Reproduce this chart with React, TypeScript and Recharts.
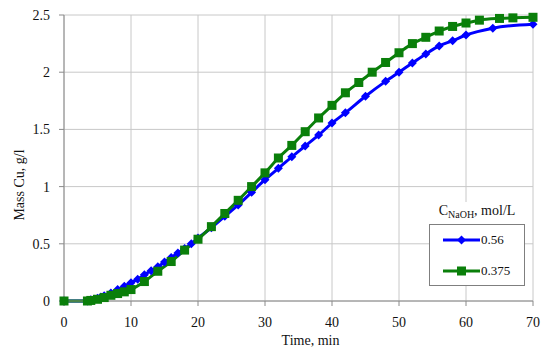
import { LineChart, Line, XAxis, YAxis, CartesianGrid } from 'recharts';

// 0.56 mol/L NaOH (blue, diamonds)
const blueTime = [0, 3.5, 4, 4.5, 5, 5.5, 6, 7, 8, 9, 10, 11, 12, 13, 14, 15, 16, 17, 18, 19, 20, 22, 24, 26, 28, 30, 32, 34, 36, 38, 40, 42, 45, 48, 50, 52, 54, 56, 58, 60, 64, 70];
const blueMass = [0, 0, 0.01, 0.015, 0.025, 0.035, 0.045, 0.07, 0.1, 0.13, 0.16, 0.19, 0.23, 0.265, 0.3, 0.34, 0.38, 0.42, 0.46, 0.5, 0.55, 0.64, 0.74, 0.84, 0.95, 1.06, 1.16, 1.26, 1.355, 1.45, 1.555, 1.645, 1.79, 1.92, 2.0, 2.08, 2.16, 2.23, 2.275, 2.325, 2.385, 2.42];

// 0.375 mol/L NaOH (green, squares)
const greenTime = [0, 3.5, 4, 5, 6, 7, 8, 9, 10, 12, 14, 16, 18, 20, 22, 24, 26, 28, 30, 32, 34, 36, 38, 40, 42, 44, 46, 48, 50, 52, 54, 56, 58, 60, 62, 65, 67, 70];
const greenMass = [0, 0, 0.005, 0.015, 0.03, 0.05, 0.065, 0.08, 0.1, 0.17, 0.26, 0.345, 0.445, 0.54, 0.65, 0.765, 0.88, 1.0, 1.12, 1.25, 1.36, 1.48, 1.6, 1.71, 1.82, 1.91, 2.0, 2.085, 2.17, 2.25, 2.305, 2.36, 2.4, 2.43, 2.455, 2.47, 2.475, 2.48];

const xTicks = [0, 10, 20, 30, 40, 50, 60, 70];
const yTicks = [0, 0.5, 1, 1.5, 2, 2.5];
const legendItems = [
  { label: '0.56', square: false },
  { label: '0.375', square: true },
];

const blueData = blueTime.map((t, i) => ({ t, mass: blueMass[i] }));
const greenData = greenTime.map((t, i) => ({ t, mass: greenMass[i] }));

const BLUE = '#0000ff';
const GREEN = '#0a7f0a';
const FONT = '"Liberation Serif", "Times New Roman", serif';

const Diamond = (props: any) => {
  const { cx, cy } = props;
  if (cx == null || cy == null) return null;
  const r = 4.5;
  return (
    <polygon
      key={`d-${cx}-${cy}`}
      points={`${cx},${cy - r} ${cx + r},${cy} ${cx},${cy + r} ${cx - r},${cy}`}
      fill={BLUE}
    />
  );
};

const Square = (props: any) => {
  const { cx, cy } = props;
  if (cx == null || cy == null) return null;
  const s = 9;
  return <rect key={`s-${cx}-${cy}`} x={cx - s / 2} y={cy - s / 2} width={s} height={s} fill={GREEN} />;
};

// rotated y-axis title, a bit below the plot's middle as in the source figure
const YTitle = () => (
  <text
    x={19}
    y={185}
    transform="rotate(-90, 19, 185)"
    textAnchor="middle"
    dominantBaseline="central"
    fill="#111"
    fontSize={14}
    fontFamily={FONT}
  >
    Mass Cu, g/l
  </text>
);

function LegendBox() {
  return (
    <div
      style={{
        position: 'absolute',
        left: 429,
        top: 202,
        width: 96,
        fontFamily: FONT,
        color: '#111',
        background: '#fff',
      }}
    >
      <div style={{ fontSize: 14, textAlign: 'center', height: 22, lineHeight: '18px' }}>
        C<sub style={{ fontSize: 10, verticalAlign: -3 }}>NaOH</sub>, mol/L
      </div>
      <div style={{ border: '1px solid #7f7f7f', height: 62, boxSizing: 'border-box', paddingTop: 3 }}>
        {legendItems.map((e) => {
          const color = e.square ? GREEN : BLUE;
          return (
            <div key={e.label} style={{ display: 'flex', alignItems: 'center', height: 24, marginBottom: 7, paddingLeft: 13 }}>
              <svg width={37} height={12}>
                <line x1={0} y1={6} x2={37} y2={6} stroke={color} strokeWidth={3} />
                {e.square ? (
                  <rect x={14} y={1.5} width={9} height={9} fill={color} />
                ) : (
                  <polygon points="18.5,1.5 23,6 18.5,10.5 14,6" fill={color} />
                )}
              </svg>
              <span style={{ fontSize: 13, marginLeft: 1 }}>{e.label}</span>
            </div>
          );
        })}
      </div>
    </div>
  );
}

export default function App() {
  return (
    <div style={{ position: 'absolute', left: 0, top: 0, width: 550, height: 351, background: '#fff' }}>
      <LineChart width={550} height={351} margin={{ top: 15, right: 17, bottom: 20, left: 0 }}>
        <CartesianGrid stroke="#c8c8c8" strokeWidth={1} />
        <XAxis
          type="number"
          dataKey="t"
          domain={[0, 70]}
          ticks={xTicks}
          height={30}
          stroke="#8a8a8a"
          tickSize={5}
          tickMargin={11}
          tick={{ fill: '#111', fontSize: 14, fontFamily: FONT }}
          label={{ value: 'Time, min', position: 'insideBottom', offset: -14, dx: 12, fill: '#111', fontSize: 14, fontFamily: FONT }}
          allowDuplicatedCategory={false}
        />
        <YAxis
          type="number"
          domain={[0, 2.5]}
          ticks={yTicks}
          width={64}
          stroke="#8a8a8a"
          tickSize={5}
          tickMargin={9}
          tick={{ fill: '#111', fontSize: 14, fontFamily: FONT }}
          label={{ content: YTitle }}
        />
        <Line
          data={blueData}
          dataKey="mass"
          name="0.56"
          type="monotone"
          stroke={BLUE}
          strokeWidth={3}
          dot={Diamond}
          activeDot={false}
          isAnimationActive={false}
        />
        <Line
          data={greenData}
          dataKey="mass"
          name="0.375"
          type="monotone"
          stroke={GREEN}
          strokeWidth={3}
          dot={Square}
          activeDot={false}
          isAnimationActive={false}
        />
      </LineChart>
      <LegendBox />
    </div>
  );
}
